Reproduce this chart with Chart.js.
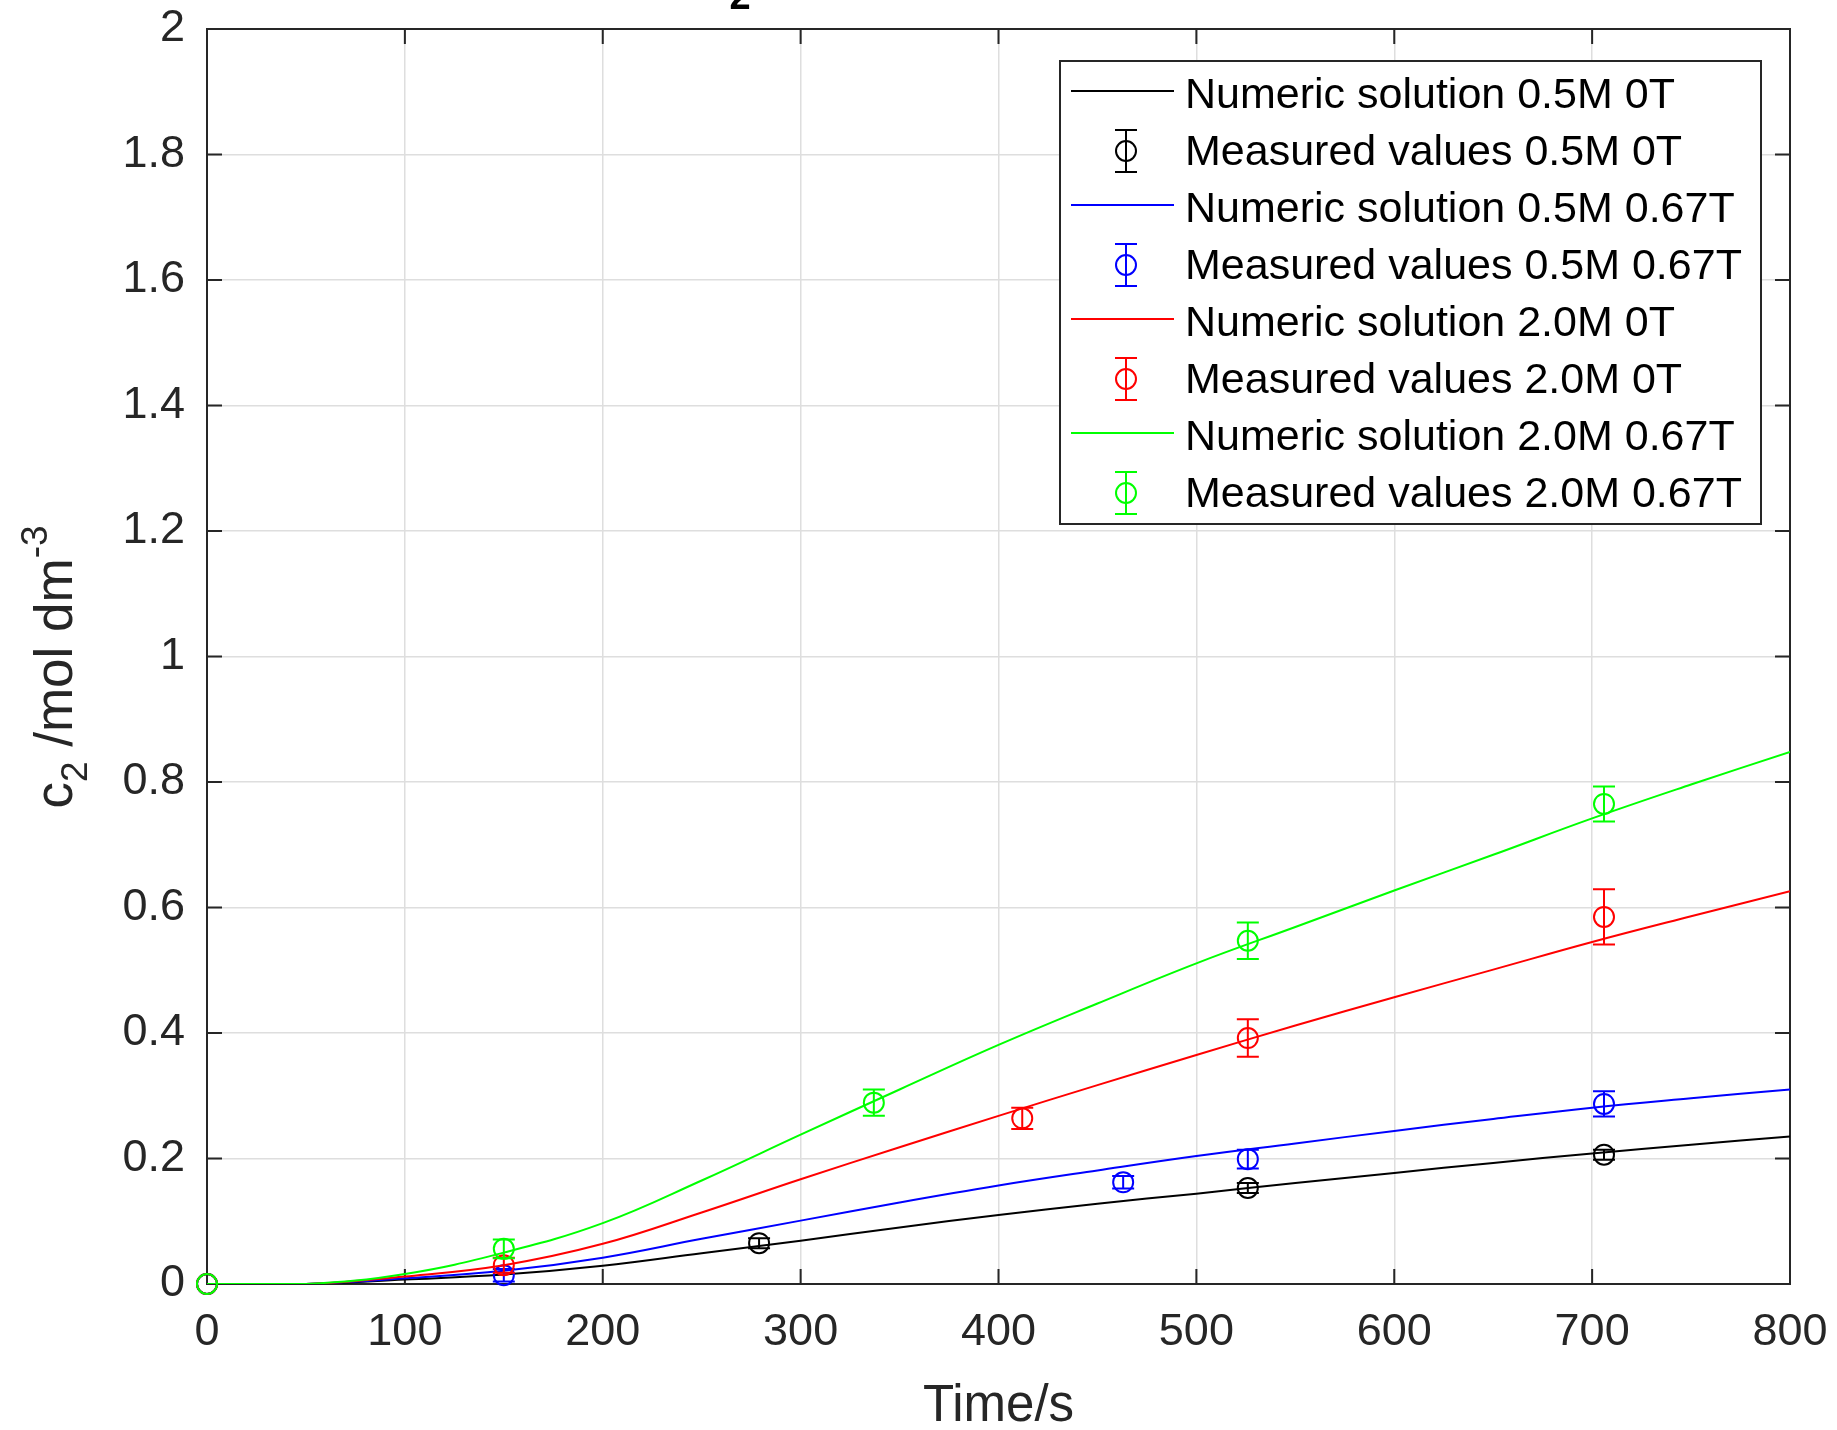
<!DOCTYPE html>
<html>
<head>
<meta charset="utf-8">
<title>c2 vs time</title>
<script src="https://cdn.jsdelivr.net/npm/chart.js@4.4.1/dist/chart.umd.min.js"></script>
<style>
  html, body { margin: 0; padding: 0; background: #fff; }
  #chart { display: block; }
</style>
</head>
<body>
<canvas id="chart" width="1837" height="1430"></canvas>
<script>
// numeric solutions, sampled every 50 s
const numTime = [0, 50, 100, 150, 200, 250, 300, 350, 400, 450, 500, 550, 600, 650, 700, 750, 800];
const num05M0T = [0, 0, 0.007, 0.015, 0.029, 0.049, 0.069, 0.090, 0.110, 0.128, 0.144, 0.161, 0.177, 0.193, 0.208, 0.222, 0.235];
const num05M067T = [0, 0, 0.009, 0.021, 0.042, 0.072, 0.101, 0.130, 0.157, 0.181, 0.204, 0.224, 0.244, 0.263, 0.281, 0.296, 0.310];
const num20M0T = [0, 0, 0.012, 0.030, 0.064, 0.114, 0.167, 0.218, 0.268, 0.317, 0.365, 0.412, 0.457, 0.501, 0.545, 0.586, 0.626];
const num20M067T = [0, 0, 0.016, 0.050, 0.097, 0.165, 0.238, 0.310, 0.381, 0.447, 0.511, 0.569, 0.627, 0.684, 0.742, 0.796, 0.848];

// measured values with error
const measTime05M0T = [0, 279, 526, 706];
const meas05M0T = [0, 0.065, 0.153, 0.206];
const err05M0T = [0, 0.008, 0.008, 0.008];

const measTime05M067T = [0, 150, 463, 526, 706];
const meas05M067T = [0, 0.014, 0.162, 0.199, 0.287];
const err05M067T = [0, 0.010, 0.010, 0.015, 0.020];

const measTime20M0T = [0, 150, 412, 526, 706];
const meas20M0T = [0, 0.030, 0.264, 0.392, 0.585];
const err20M0T = [0, 0.012, 0.017, 0.030, 0.044];

const measTime20M067T = [0, 150, 337, 526, 706];
const meas20M067T = [0, 0.056, 0.289, 0.547, 0.765];
const err20M067T = [0, 0.015, 0.021, 0.029, 0.028];

const xTicks = [0, 100, 200, 300, 400, 500, 600, 700, 800];

const FONT = '"Liberation Sans", Arial, Helvetica, sans-serif';
const AXIS_COLOR = '#262626';
const TICK = 15;
const CAP = 11;

function pts(xs, ys) {
    return xs.map((x, i) => ({ x: x, y: ys[i] }));
}

function numericSet(label, color, values) {
    return {
        label: label,
        data: pts(numTime, values),
        showLine: true,
        borderColor: color,
        borderWidth: 2,
        pointRadius: 0,
        tension: 0.4,
        fill: false
    };
}

function measuredSet(label, color, times, values, errors) {
    return {
        label: label,
        data: pts(times, values),
        errors: errors,
        showLine: false,
        borderColor: color,
        backgroundColor: 'rgba(0,0,0,0)',
        pointStyle: 'circle',
        pointRadius: 10,
        pointBorderWidth: 2,
        clip: false
    };
}

const datasets = [
    numericSet('Numeric solution 0.5M 0T', '#000000', num05M0T),
    measuredSet('Measured values 0.5M 0T', '#000000', measTime05M0T, meas05M0T, err05M0T),
    numericSet('Numeric solution 0.5M 0.67T', '#0000ff', num05M067T),
    measuredSet('Measured values 0.5M 0.67T', '#0000ff', measTime05M067T, meas05M067T, err05M067T),
    numericSet('Numeric solution 2.0M 0T', '#ff0000', num20M0T),
    measuredSet('Measured values 2.0M 0T', '#ff0000', measTime20M0T, meas20M0T, err20M0T),
    numericSet('Numeric solution 2.0M 0.67T', '#00ff00', num20M067T),
    measuredSet('Measured values 2.0M 0.67T', '#00ff00', measTime20M067T, meas20M067T, err20M067T)
];
// later series drawn on top, like the original plot
datasets.forEach((ds, i) => { ds.order = datasets.length - i; });

// vertical error bars with caps
const errorBars = {
    id: 'errorBars',
    afterDatasetDraw(chart, args) {
        const ds = chart.data.datasets[args.index];
        if (!ds.errors) return;
        const ctx = chart.ctx;
        const xs = chart.scales.x;
        const ys = chart.scales.y;
        ctx.save();
        ctx.strokeStyle = ds.borderColor;
        ctx.lineWidth = 2;
        ctx.beginPath();
        ds.data.forEach((p, i) => {
            const e = ds.errors[i];
            if (!e) return;
            const px = xs.getPixelForValue(p.x);
            const top = ys.getPixelForValue(p.y + e);
            const bot = ys.getPixelForValue(p.y - e);
            ctx.moveTo(px, top); ctx.lineTo(px, bot);
            ctx.moveTo(px - CAP, top); ctx.lineTo(px + CAP, top);
            ctx.moveTo(px - CAP, bot); ctx.lineTo(px + CAP, bot);
        });
        ctx.stroke();
        ctx.restore();
    }
};

// box round the axes with inward ticks on all four sides
const axesBox = {
    id: 'axesBox',
    beforeDatasetsDraw(chart) {
        const { ctx, chartArea: a, scales: { x, y } } = chart;
        ctx.save();
        ctx.strokeStyle = AXIS_COLOR;
        ctx.lineWidth = 2;
        ctx.strokeRect(a.left, a.top, a.right - a.left, a.bottom - a.top);
        ctx.beginPath();
        x.ticks.forEach(t => {
            const px = x.getPixelForValue(t.value);
            ctx.moveTo(px, a.bottom); ctx.lineTo(px, a.bottom - TICK);
            ctx.moveTo(px, a.top); ctx.lineTo(px, a.top + TICK);
        });
        y.ticks.forEach(t => {
            const py = y.getPixelForValue(t.value);
            ctx.moveTo(a.left, py); ctx.lineTo(a.left + TICK, py);
            ctx.moveTo(a.right, py); ctx.lineTo(a.right - TICK, py);
        });
        ctx.stroke();
        ctx.restore();
    }
};

// axis titles (with sub/superscripts) and the cut off title
const axisTitles = {
    id: 'axisTitles',
    afterDraw(chart) {
        const ctx = chart.ctx;
        const a = chart.chartArea;
        ctx.save();
        ctx.fillStyle = AXIS_COLOR;

        // x title
        ctx.font = '51px ' + FONT;
        ctx.textAlign = 'center';
        ctx.textBaseline = 'alphabetic';
        ctx.fillText('Time/s', (a.left + a.right) / 2, 1421);

        // y title, rotated
        const big = '53px ' + FONT;
        const small = '37px ' + FONT;
        const parts = [
            { t: 'c', f: big, dy: 0 },
            { t: '2', f: small, dy: 15 },
            { t: ' /mol dm', f: big, dy: 0 },
            { t: '-3', f: small, dy: -25 }
        ];
        let total = 0;
        parts.forEach(p => { ctx.font = p.f; p.w = ctx.measureText(p.t).width; total += p.w; });
        ctx.translate(72, 667);
        ctx.rotate(-Math.PI / 2);
        ctx.textAlign = 'left';
        let cx = -total / 2;
        parts.forEach(p => {
            ctx.font = p.f;
            ctx.fillText(p.t, cx, p.dy);
            cx += p.w;
        });
        ctx.restore();

        // only the bottom of the title's subscript shows at the top edge
        ctx.save();
        ctx.fillStyle = '#000';
        ctx.font = 'bold 38px ' + FONT;
        ctx.textAlign = 'center';
        ctx.fillText('2', 740, 9);
        ctx.restore();
    }
};

// legend box in the upper right corner
const legendBox = {
    id: 'legendBox',
    afterDraw(chart) {
        const ctx = chart.ctx;
        const L = 1060, T = 61, W = 701, H = 463;
        ctx.save();
        ctx.fillStyle = '#fff';
        ctx.fillRect(L, T, W, H);
        ctx.strokeStyle = AXIS_COLOR;
        ctx.lineWidth = 2;
        ctx.strokeRect(L, T, W, H);
        ctx.font = '43px ' + FONT;
        ctx.textBaseline = 'middle';
        ctx.textAlign = 'left';
        chart.data.datasets.forEach((ds, i) => {
            const cy = T + 33 + i * 57;
            ctx.strokeStyle = ds.borderColor;
            ctx.lineWidth = 2;
            ctx.beginPath();
            if (ds.errors) {
                const cx = 1126;
                ctx.moveTo(cx, cy - 21); ctx.lineTo(cx, cy + 21);
                ctx.moveTo(cx - CAP, cy - 21); ctx.lineTo(cx + CAP, cy - 21);
                ctx.moveTo(cx - CAP, cy + 21); ctx.lineTo(cx + CAP, cy + 21);
                ctx.stroke();
                ctx.beginPath();
                ctx.arc(cx, cy, 10, 0, Math.PI * 2);
            } else {
                ctx.moveTo(1071, cy - 3); ctx.lineTo(1174, cy - 3);
            }
            ctx.stroke();
            ctx.fillStyle = '#000';
            ctx.fillText(ds.label, 1185, cy + 2);
        });
        ctx.restore();
    }
};

const tickFont = { family: FONT, size: 45 };

const chart = new Chart(document.getElementById('chart'), {
    type: 'scatter',
    data: { datasets: datasets },
    options: {
        responsive: false,
        devicePixelRatio: 1,
        animation: false,
        layout: { padding: { top: 29, right: 47, left: 0, bottom: 0 } },
        plugins: {
            legend: { display: false },
            tooltip: { enabled: false }
        },
        scales: {
            x: {
                type: 'linear',
                min: 0,
                max: 800,
                afterBuildTicks: s => { s.ticks = xTicks.map(v => ({ value: v })); },
                ticks: { padding: 22, font: tickFont, color: AXIS_COLOR, maxRotation: 0 },
                grid: { color: '#dedede', lineWidth: 1.5, drawTicks: false },
                border: { display: false },
                afterFit: s => { s.height = 146; s.paddingLeft = 0; s.paddingRight = 0; }
            },
            y: {
                type: 'linear',
                min: 0,
                max: 2,
                ticks: {
                    stepSize: 0.2,
                    padding: 22,
                    font: tickFont,
                    color: AXIS_COLOR,
                    callback: v => String(Math.round(v * 10) / 10)
                },
                grid: { color: '#dedede', lineWidth: 1.5, drawTicks: false },
                border: { display: false },
                afterFit: s => { s.width = 207; s.paddingTop = 0; s.paddingBottom = 0; }
            }
        }
    },
    plugins: [axesBox, errorBars, axisTitles, legendBox]
});
</script>
</body>
</html>
